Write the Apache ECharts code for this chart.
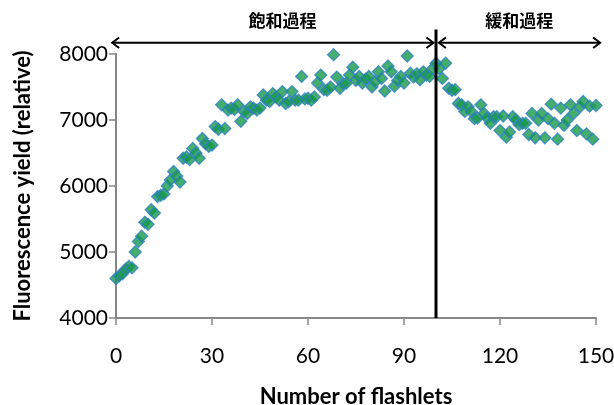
<!DOCTYPE html>
<html>
<head>
<meta charset="utf-8">
<script src="https://cdn.jsdelivr.net/npm/echarts@6/dist/echarts.min.js"></script>
<style>
  html, body { margin: 0; padding: 0; background: #fff; }
  #chart { width: 614px; height: 405px; }
</style>
</head>
<body>
<div id="chart"></div>
<script>
// Flashlet number for each measurement
const flashlets = [
  0, 1, 2, 3, 4, 5, 6, 7, 8, 9, 10, 11, 12, 13, 14, 15, 16, 17, 18, 19,
  20, 21, 22, 23, 24, 25, 26, 27, 28, 29, 30, 31, 32, 33, 34, 35, 36, 37, 38, 39,
  40, 41, 42, 43, 44, 45, 46, 47, 48, 49, 50, 51, 52, 53, 54, 55, 56, 57, 58, 59,
  60, 61, 62, 63, 64, 65, 66, 67, 68, 69, 70, 71, 72, 73, 74, 75, 76, 77, 78, 79,
  80, 81, 82, 83, 84, 85, 86, 87, 88, 89, 90, 91, 92, 93, 94, 95, 96, 97, 98, 99,
  100, 101, 102, 103, 104, 105, 106, 107, 108, 109, 110, 111, 112, 113, 114, 115, 116, 117, 118, 119,
  120, 121, 122, 123, 124, 125, 126, 127, 128, 129, 130, 131, 132, 133, 134, 135, 136, 137, 138, 139,
  140, 141, 142, 143, 144, 145, 146, 147, 148, 149, 150
];

// Relative fluorescence yield per flashlet
const fluorescence = [
  4600, 4640, 4670, 4740, 4780, 4760, 5000, 5160, 5240, 5450,
  5420, 5640, 5590, 5840, 5860, 5880, 6000, 6090, 6220, 6150,
  6060, 6420, 6440, 6400, 6570, 6500, 6420, 6720, 6640, 6600,
  6620, 6900, 6860, 7230, 6870, 7150, 7180, 7160, 7230, 6980,
  7130, 7100, 7200, 7180, 7150, 7180, 7380, 7300, 7280, 7400,
  7350, 7300, 7430, 7250, 7280, 7430, 7300, 7300, 7660, 7320,
  7330, 7300, 7350, 7560, 7680, 7460, 7450, 7500, 7990, 7650,
  7480, 7550, 7560, 7680, 7800, 7600, 7660, 7560, 7620, 7660,
  7500, 7580, 7730, 7630, 7440, 7820, 7730, 7510, 7600, 7660,
  7560, 7970, 7710, 7650, 7700, 7610, 7730, 7680, 7660, 7780,
  7860, 7780, 7630, 7860, 7480, 7450, 7460, 7250, 7230, 7130,
  7200, 7130, 7020, 7030, 7230, 7100, 7030, 6950, 7050, 7050,
  6840, 7060, 6740, 6820, 7050, 7000, 6930, 6950, 6950, 6780,
  7100, 6730, 7000, 7100, 6730, 7020, 7240, 6950, 6710, 7180,
  6920, 7000, 7230, 7100, 6840, 7200, 7280, 6790, 7210, 6710,
  7220
];

// Phase annotations (x in flashlets, y in fluorescence units)
const phaseLabels = ['飽和過程', '緩和過程'];
const phaseBoundary = 100;
const saturationSpan = [-1.2, 99.2];
const relaxationSpan = [100.9, 151.3];
const arrowLevel = 8170;
const labelLevel = 8510;
const boundaryTop = 8370;

const xTicks = { min: 0, max: 150, interval: 30 };
const yTicks = { min: 4000, max: 8000, interval: 1000 };

const FONT = 'Lato, "Liberation Sans", sans-serif';
const AXIS_GREY = '#868686';

const chart = echarts.init(document.getElementById('chart'), null, { renderer: 'canvas' });

chart.setOption({
  animation: false,
  backgroundColor: '#ffffff',
  grid: { left: 116, right: 18, top: 54, bottom: 87, containLabel: false, outerBoundsMode: 'none' },
  xAxis: {
    type: 'value',
    min: xTicks.min, max: xTicks.max, interval: xTicks.interval,
    name: 'Number of flashlets',
    nameLocation: 'middle',
    nameGap: 68,
    nameTextStyle: { fontFamily: FONT, fontWeight: 'bold', fontSize: 22, color: '#000' },
    axisLine: { lineStyle: { color: AXIS_GREY, width: 2 } },
    axisTick: { show: true, length: 7, inside: false, lineStyle: { color: AXIS_GREY, width: 1.5 } },
    axisLabel: { fontFamily: FONT, fontSize: 21, color: '#000', margin: 28 },
    splitLine: { show: false }
  },
  yAxis: {
    type: 'value',
    min: yTicks.min, max: yTicks.max, interval: yTicks.interval,
    name: 'Fluorescence yield (relative)',
    nameLocation: 'middle',
    nameGap: 82,
    nameRotate: 90,
    nameTextStyle: { fontFamily: FONT, fontWeight: 'bold', fontSize: 22, color: '#000' },
    axisLine: { show: true, lineStyle: { color: AXIS_GREY, width: 2 } },
    axisTick: { show: true, length: 7, inside: false, lineStyle: { color: AXIS_GREY, width: 1.5 } },
    axisLabel: { fontFamily: FONT, fontSize: 21, color: '#000', margin: 8, formatter: v => String(v) },
    splitLine: { show: false }
  },
  series: [{
    type: 'scatter',
    symbol: 'diamond',
    symbolSize: 12,
    clip: false,
    itemStyle: { color: '#169a47', borderColor: '#2e7fc6', borderWidth: 1.3 },
    data: flashlets.map((f, i) => [f, fluorescence[i]]),
    z: 2
  }]
});

// Annotation graphics: phase boundary, double arrows and phase names
function px(x, y) { return chart.convertToPixel({ gridIndex: 0 }, [x, y]); }

function doubleArrow(span, level) {
  const a = px(span[0], level);
  const b = px(span[1], level);
  const h = 7; // arrowhead size
  const style = { stroke: '#000', lineWidth: 2, fill: null };
  return [
    { type: 'line', shape: { x1: a[0], y1: a[1], x2: b[0], y2: b[1] }, style, z: 10 },
    { type: 'polyline', shape: { points: [[a[0] + h, a[1] - h * 0.75], [a[0], a[1]], [a[0] + h, a[1] + h * 0.75]] }, style, z: 10 },
    { type: 'polyline', shape: { points: [[b[0] - h, b[1] - h * 0.75], [b[0], b[1]], [b[0] - h, b[1] + h * 0.75]] }, style, z: 10 }
  ];
}

const bTop = px(phaseBoundary, boundaryTop);
const bBottom = px(phaseBoundary, yTicks.min);
const satLabel = px((0 + phaseBoundary) / 2 + 2, labelLevel);
const relLabel = px((phaseBoundary + 150) / 2 + 1, labelLevel);

const labelStyle = {
  fontFamily: '"Noto Sans CJK JP", sans-serif',
  fontWeight: 'bold',
  fontSize: 17,
  fill: '#000',
  align: 'center',
  verticalAlign: 'middle'
};

chart.setOption({
  graphic: [
    { type: 'line', shape: { x1: bTop[0], y1: bTop[1], x2: bBottom[0], y2: bBottom[1] }, style: { stroke: '#000', lineWidth: 3 }, z: 10 },
    ...doubleArrow(saturationSpan, arrowLevel),
    ...doubleArrow(relaxationSpan, arrowLevel),
    { type: 'text', x: satLabel[0], y: satLabel[1], style: Object.assign({ text: phaseLabels[0] }, labelStyle), z: 10 },
    { type: 'text', x: relLabel[0], y: relLabel[1], style: Object.assign({ text: phaseLabels[1] }, labelStyle), z: 10 }
  ]
});
</script>
</body>
</html>
